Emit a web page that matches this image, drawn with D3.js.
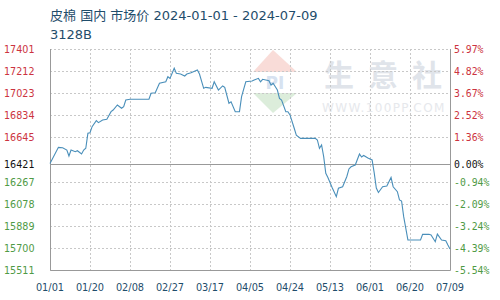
<!DOCTYPE html>
<html><head><meta charset="utf-8">
<script src="https://cdn.jsdelivr.net/npm/d3@7/dist/d3.min.js"></script>
<style>body{margin:0;background:#fff;}svg{display:block;}</style>
</head><body>
<svg id="c" width="500" height="300"></svg>
<script>
const titleText = "皮棉 国内 市场价 2024-01-01 - 2024-07-09";
const subTitle = "3128B";
const baseValue = 16421;
const yTicks = [17401, 17212, 17023, 16834, 16645, 16421, 16267, 16078, 15889, 15700, 15511];
const xTickLabels = ["01/01","01/20","02/08","02/27","03/17","04/05","04/24","05/13","06/01","06/20","07/09"];
const dates = ["2024-01-01","2024-01-05","2024-01-07","2024-01-09","2024-01-10","2024-01-11","2024-01-13","2024-01-14","2024-01-16","2024-01-17","2024-01-18","2024-01-19","2024-01-20","2024-01-21","2024-01-23","2024-01-24","2024-01-26","2024-01-28","2024-01-30","2024-01-31",
"2024-02-02","2024-02-04","2024-02-05","2024-02-06","2024-02-08","2024-02-17","2024-02-18","2024-02-20","2024-02-22","2024-02-25","2024-02-26","2024-02-27","2024-02-29",
"2024-03-01","2024-03-03","2024-03-05","2024-03-06","2024-03-08","2024-03-11","2024-03-12","2024-03-14","2024-03-15","2024-03-18","2024-03-19","2024-03-21","2024-03-23","2024-03-24","2024-03-26","2024-03-27","2024-03-29","2024-03-31",
"2024-04-01","2024-04-03","2024-04-06","2024-04-07","2024-04-09","2024-04-10","2024-04-11","2024-04-14","2024-04-15","2024-04-16","2024-04-18","2024-04-19","2024-04-20","2024-04-22","2024-04-23","2024-04-24","2024-04-26","2024-04-27","2024-04-29",
"2024-05-06","2024-05-07","2024-05-08","2024-05-09","2024-05-10","2024-05-11","2024-05-12","2024-05-14","2024-05-16","2024-05-17","2024-05-19","2024-05-21","2024-05-22","2024-05-23","2024-05-25","2024-05-27","2024-05-28","2024-05-29","2024-05-31",
"2024-06-02","2024-06-03","2024-06-04","2024-06-05","2024-06-07","2024-06-09","2024-06-11","2024-06-12","2024-06-14","2024-06-15","2024-06-16","2024-06-17","2024-06-19","2024-06-25","2024-06-26","2024-06-29","2024-06-30",
"2024-07-02","2024-07-03","2024-07-05","2024-07-07","2024-07-08","2024-07-09"];
const prices = [16421,16560,16557,16537,16486,16537,16523,16531,16503,16537,16552,16680,16685,16737,16788,16771,16794,16800,16865,16879,
16922,16894,16908,16965,16971,16971,17022,17027,17108,17121,17164,17150,17236,
17193,17187,17170,17187,17198,17221,17187,17065,17073,17065,17121,17050,17085,17073,16937,16950,16865,16865,
16993,17121,17127,17136,17150,17121,17142,17130,17093,17108,17050,16979,16965,16865,16865,16837,16723,16665,16637,
16637,16623,16552,16580,16480,16338,16302,16217,16138,16210,16223,16311,16375,16394,16409,16503,16477,16490,16469,
16452,16341,16212,16174,16223,16229,16302,16223,16181,16110,16101,15967,15768,15768,15816,15816,15810,
15753,15818,15768,15762,15725,15690];

const svg = d3.select("#c");
const L = 50, R = 450, T = 49, B = 270;
const parse = d3.timeParse("%Y-%m-%d");
const x = d3.scaleTime().domain([parse("2024-01-01"), parse("2024-07-09")]).range([L, R]);
const y = d3.scaleLinear().domain([15511, 17401]).range([B, T]);
const xTicks = xTickLabels.map((s, i) => d3.timeDay.offset(parse("2024-01-01"), i * 19));

const red = "#cc3340", green = "#4f9a45", dark = "#111";

// watermark
const wm = svg.append("g").attr("opacity", 0.4);
wm.append("path").attr("d", `M273,50 L297,72 L253,72 Z`).attr("fill", "#f2aa9f");
wm.append("path").attr("d", `M253,93 L297,93 L273,113 Z`).attr("fill", "#a9d3a8");
wm.append("text").attr("x", 275).attr("y", 89).attr("text-anchor", "middle")
  .attr("font-family", "DejaVu Sans").attr("font-weight", "bold").attr("font-size", 17)
  .attr("fill", "#9db7dc").text("PI");
svg.append("text").attr("x", 324).attr("y", 86).attr("font-family", "Noto Sans CJK SC")
  .attr("font-size", 30).attr("font-weight", "bold").attr("letter-spacing", 14).attr("fill", "#e0e4ea").text("生意社");
svg.append("text").attr("x", 322).attr("y", 112).attr("font-family", "DejaVu Sans")
  .attr("font-size", 12).attr("letter-spacing", 1.4).attr("fill", "#e6e8ec").text("WWW.100PP.COM");

// horizontal gridlines
const gridVals = yTicks.filter(v => v !== baseValue);
svg.append("g").selectAll("line").data(gridVals).join("line")
  .attr("x1", L).attr("x2", R).attr("y1", d => Math.round(y(d)) + 0.5).attr("y2", d => Math.round(y(d)) + 0.5)
  .attr("stroke", "#c8c8c8").attr("stroke-dasharray", "2,2");
// vertical gridlines
svg.append("g").selectAll("line").data(xTicks.slice(1, -1)).join("line")
  .attr("x1", d => Math.round(x(d)) + 0.5).attr("x2", d => Math.round(x(d)) + 0.5).attr("y1", T).attr("y2", B)
  .attr("stroke", "#c8c8c8").attr("stroke-dasharray", "2,2");

// frame
svg.append("path").attr("d", `M${L + 0.5},${T} V${B + 0.5} H${R + 0.5} V${T}`).attr("fill", "none").attr("stroke", "#999");
// base line
svg.append("line").attr("x1", L).attr("x2", R).attr("y1", Math.round(y(baseValue)) + 0.5).attr("y2", Math.round(y(baseValue)) + 0.5)
  .attr("stroke", "#999");

// left labels
svg.append("g").selectAll("text").data(yTicks).join("text")
  .attr("x", 4).attr("y", d => y(d) + 4)
  .attr("font-family", "DejaVu Sans").attr("font-size", 9.6)
  .attr("fill", d => d > baseValue ? red : d < baseValue ? green : dark)
  .text(d => d);
// right labels
svg.append("g").selectAll("text").data(yTicks).join("text")
  .attr("x", 454).attr("y", d => y(d) + 4)
  .attr("font-family", "DejaVu Sans Mono").attr("font-size", 9.8)
  .attr("fill", d => d > baseValue ? red : d < baseValue ? green : dark)
  .text(d => ((d / baseValue - 1) * 100).toFixed(2) + "%");

// x labels
svg.append("g").selectAll("text").data(xTicks).join("text")
  .attr("x", d => x(d)).attr("y", 291).attr("text-anchor", "middle")
  .attr("font-family", "DejaVu Sans").attr("font-size", 9.8).attr("fill", "#1f4d6b")
  .text((d, i) => xTickLabels[i]);

// line
const data = dates.map((d, i) => ({ d: parse(d), v: prices[i] }));
svg.append("path").datum(data)
  .attr("d", d3.line().x(p => x(p.d)).y(p => y(p.v)))
  .attr("fill", "none").attr("stroke", "#4a8fba").attr("stroke-width", 1.1);

// titles
svg.append("text").attr("x", 50).attr("y", 20).attr("font-family", "DejaVu Sans, Noto Sans CJK SC")
  .attr("font-size", 13).attr("fill", "#1f4d6b").text(titleText);
svg.append("text").attr("x", 50).attr("y", 39).attr("font-family", "DejaVu Sans, Noto Sans CJK SC")
  .attr("font-size", 13).attr("fill", "#1f4d6b").text(subTitle);
</script>
</body></html>
